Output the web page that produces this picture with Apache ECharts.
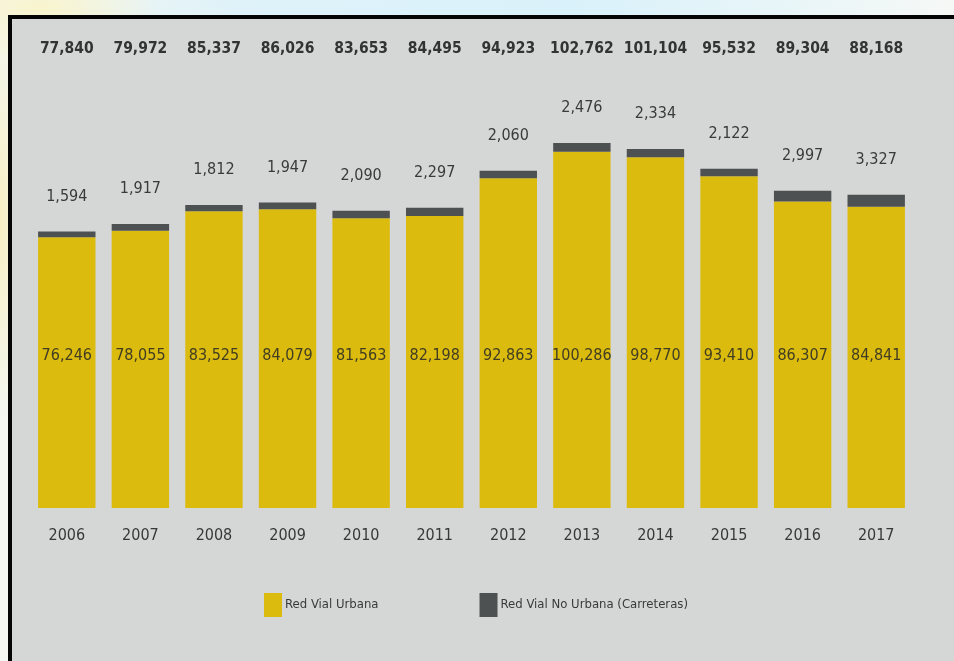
<!DOCTYPE html>
<html>
<head>
<meta charset="utf-8">
<script src="https://cdn.jsdelivr.net/npm/echarts@6/dist/echarts.min.js"></script>
<style>
  html, body { margin: 0; padding: 0; width: 954px; height: 661px; overflow: hidden; }
  body {
    background:
      radial-gradient(ellipse 120px 60px at 40px 10px, rgba(250,244,200,0.9), rgba(250,244,200,0) 100%),
      radial-gradient(ellipse 30px 200px at 0px 220px, rgba(248,238,190,0.9), rgba(248,238,190,0) 100%),
      linear-gradient(90deg, #f4f7f2 0%, #dff2f9 25%, #d9f1fa 60%, #eaf6f8 85%, #f6f8f6 100%);
    position: relative;
  }
  #frame {
    position: absolute; left: 8px; top: 15px; right: -4px; bottom: -4px;
    border-left: 4px solid #050505; border-top: 4px solid #050505;
    background: #d5d6d6;
  }
  #chart { position: absolute; left: 0; top: 0; width: 942px; height: 642px; }
</style>
</head>
<body>
<div id="frame"><div id="chart"></div></div>
<script>
// Registered vehicles by road network, 2006-2017
const years = ['2006','2007','2008','2009','2010','2011','2012','2013','2014','2015','2016','2017'];
const urbana = [76246, 78055, 83525, 84079, 81563, 82198, 92863, 100286, 98770, 93410, 86307, 84841];
const noUrbana = [1594, 1917, 1812, 1947, 2090, 2297, 2060, 2476, 2334, 2122, 2997, 3327];
const totals = urbana.map((v, i) => v + noUrbana[i]);

const fmt = v => Number(v).toLocaleString('en-US');
const FONT = '"DejaVu Sans Condensed", "DejaVu Sans", sans-serif';

const chart = echarts.init(document.getElementById('chart'));
chart.setOption({
  animation: false,
  backgroundColor: 'transparent',
  textStyle: { fontFamily: FONT },
  grid: { left: 18, right: 41, top: 45, bottom: 153 },
  legend: {
    left: 247, top: 569,
    itemWidth: 18, itemHeight: 24, itemGap: 101,
    icon: 'rect',
    textStyle: { fontFamily: FONT, fontSize: 13, color: '#3a3a3a', padding: [0, 0, 0, -2] },
    data: ['Red Vial Urbana', 'Red Vial No Urbana (Carreteras)']
  },
  xAxis: [
    {
      type: 'category', data: years, position: 'bottom',
      axisLine: { show: false }, axisTick: { show: false },
      axisLabel: { fontFamily: FONT, fontSize: 16, color: '#383838', margin: 20, interval: 0 }
    },
    {
      type: 'category', data: totals.map(fmt), position: 'top',
      axisLine: { show: false }, axisTick: { show: false },
      axisLabel: { fontFamily: FONT, fontSize: 15.5, fontWeight: 'bold', color: '#333333', margin: 7, interval: 0 }
    }
  ],
  yAxis: {
    type: 'value', min: 0, max: 125000, show: false,
    splitLine: { show: false }
  },
  series: [
    {
      name: 'Red Vial Urbana', type: 'bar', stack: 'total', data: urbana,
      xAxisIndex: 0,
      barCategoryGap: '22%',
      itemStyle: { color: '#dcbb0f' },
      label: {
        show: true, position: 'insideBottom', distance: 144,
        fontFamily: FONT, fontSize: 16, color: '#403d22',
        formatter: p => fmt(p.value)
      }
    },
    {
      name: 'Red Vial No Urbana (Carreteras)', type: 'bar', stack: 'total', data: noUrbana,
      xAxisIndex: 0,
      itemStyle: { color: '#4e5152' },
      label: {
        show: true, position: 'top', distance: 27,
        fontFamily: FONT, fontSize: 16, color: '#3a3a3a',
        formatter: p => fmt(p.value)
      }
    }
  ]
});
</script>
</body>
</html>
